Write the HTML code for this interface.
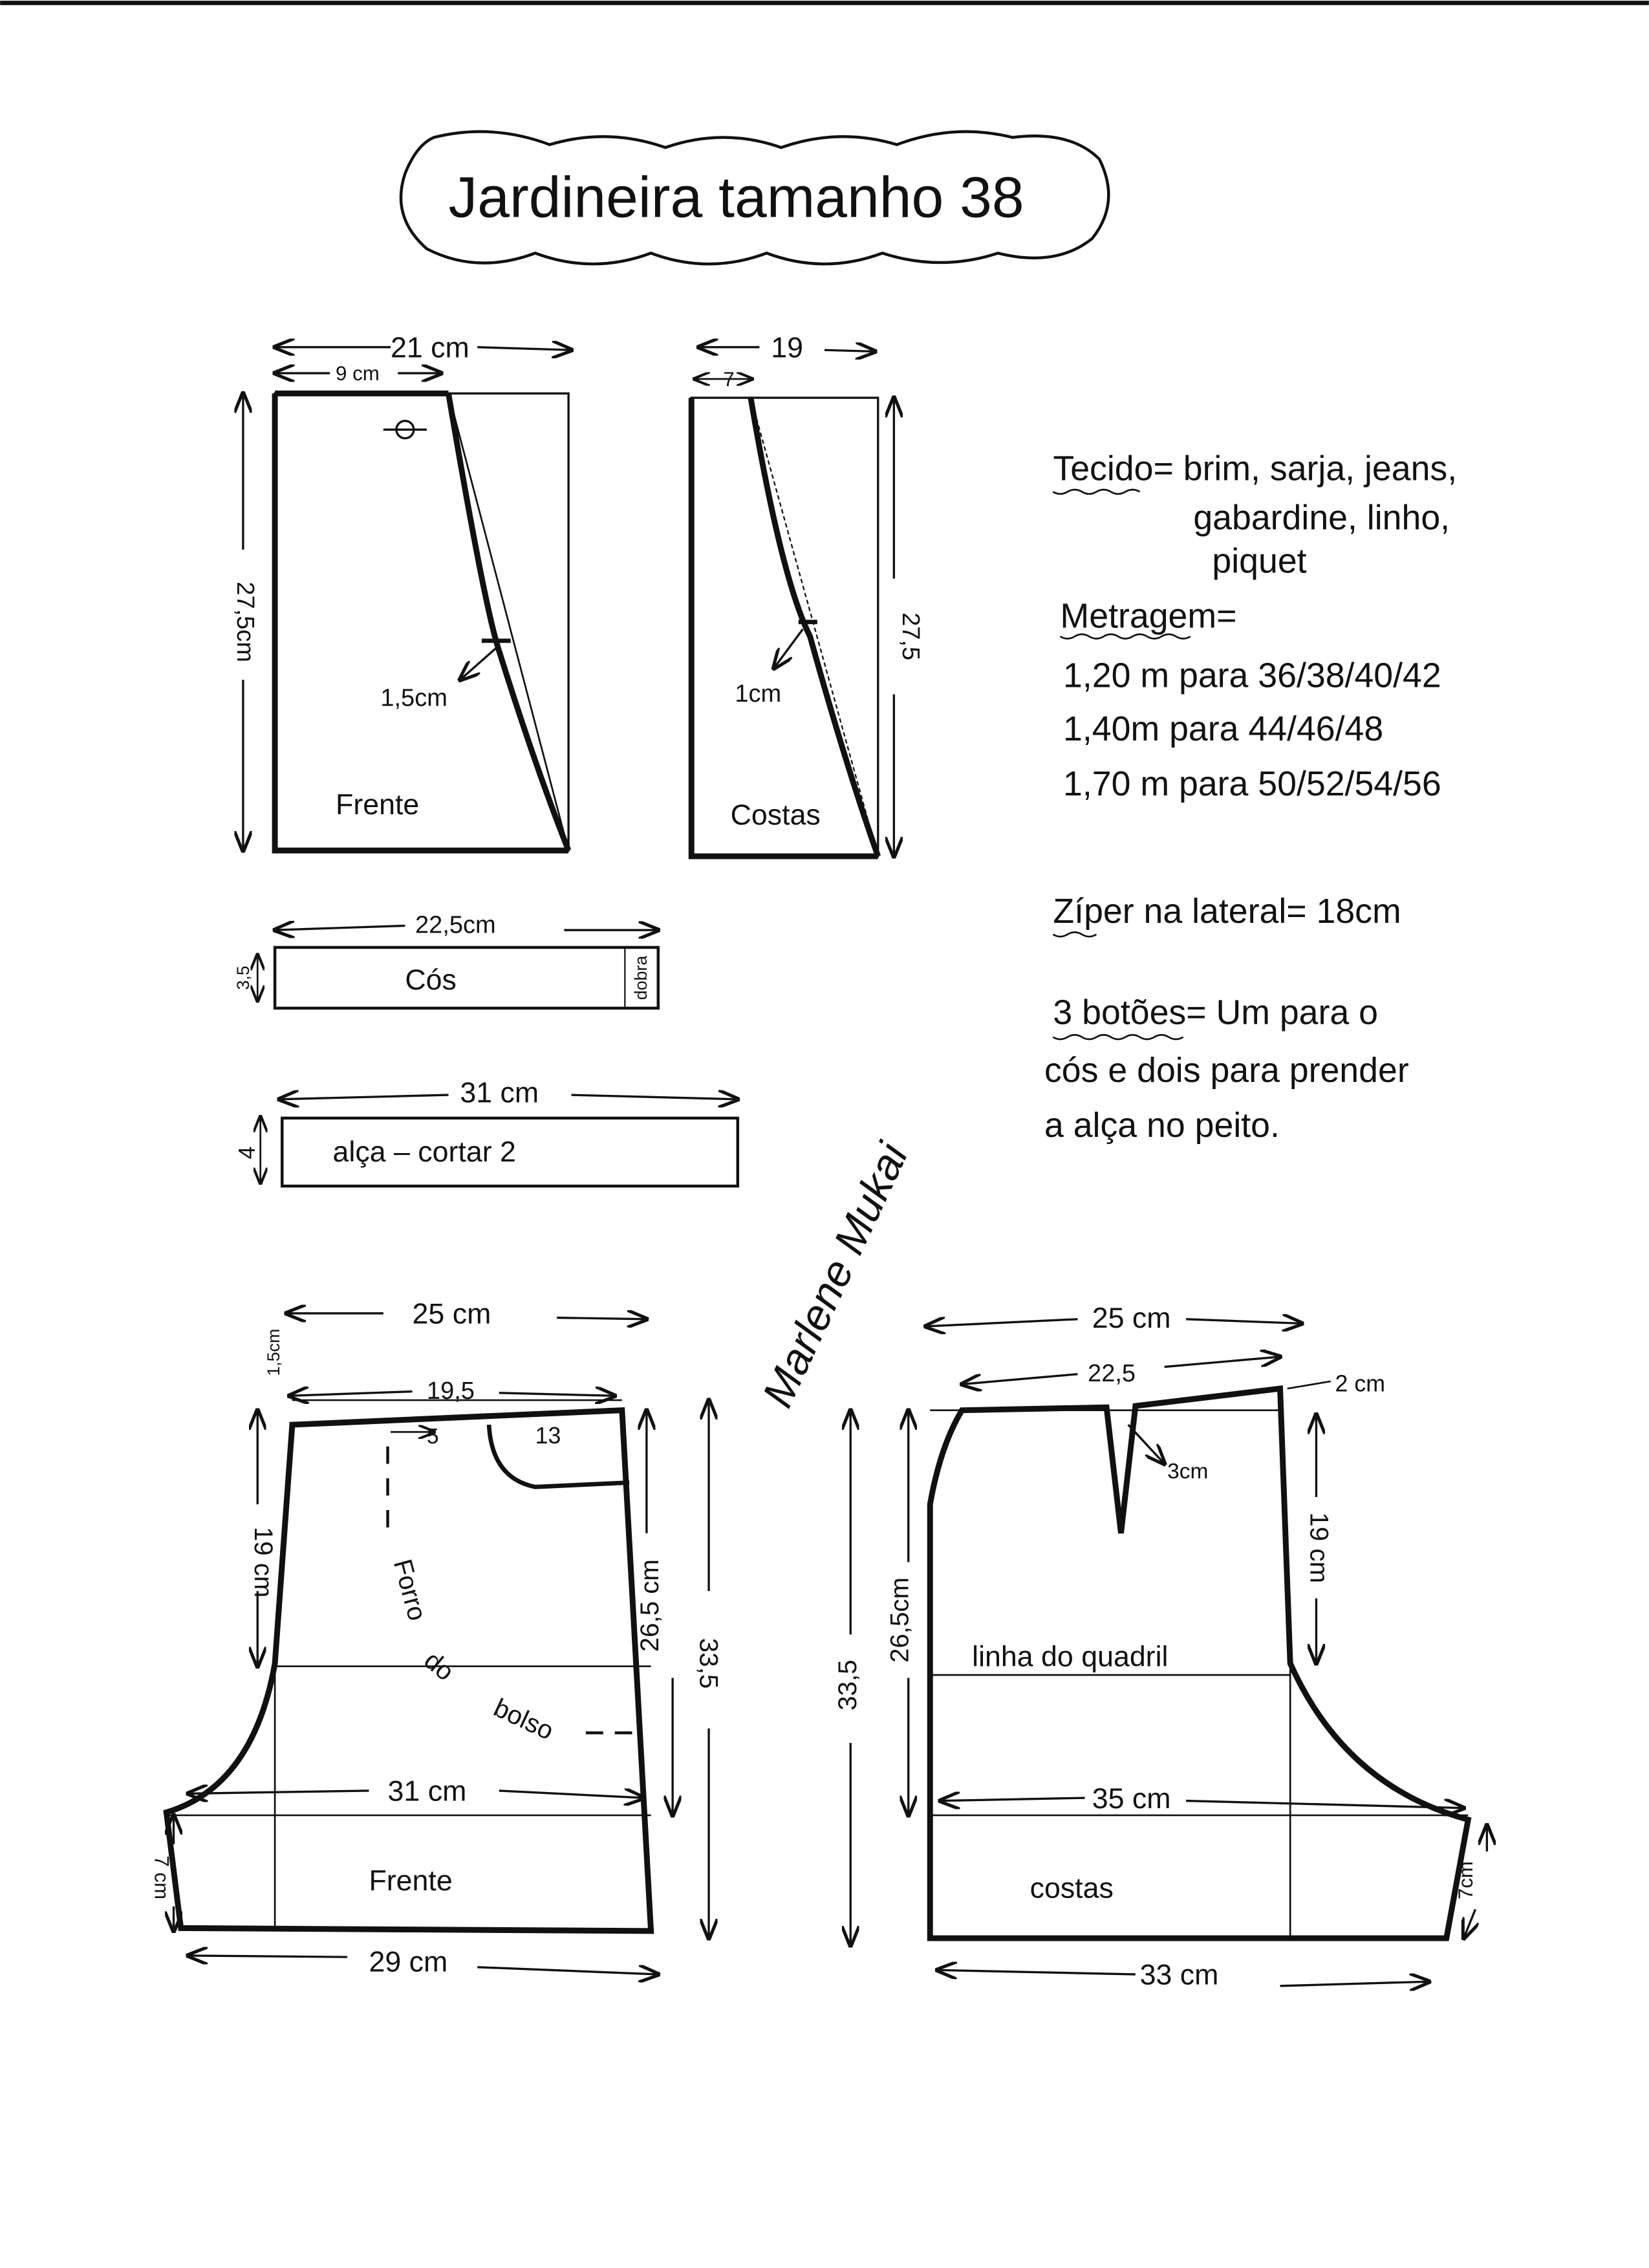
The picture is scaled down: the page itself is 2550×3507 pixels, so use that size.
<!DOCTYPE html>
<html><head><meta charset="utf-8"><style>
html,body{margin:0;padding:0;background:#fff}
svg{display:block}
text{font-family:"Liberation Sans",sans-serif;fill:#111}
</style></head><body>
<svg width="2550" height="3507" viewBox="0 0 1140 1568" xmlns="http://www.w3.org/2000/svg">
<defs>
<marker id="a" markerWidth="10" markerHeight="8" refX="9" refY="4" orient="auto"><path d="M0,0 L10,4 L0,8" fill="none" stroke="#111" stroke-width="1.5"/></marker>
<marker id="s" markerWidth="10" markerHeight="8" refX="9" refY="4" orient="auto-start-reverse"><path d="M0,0 L10,4 L0,8" fill="none" stroke="#111" stroke-width="1.5"/></marker>
</defs>
<rect width="1140" height="1568" fill="#fff"/>
<line x1="0" y1="2" x2="1140" y2="2" stroke="#111" stroke-width="3"/>
<g fill="none" stroke="#111" stroke-width="2">
<path d="M300,95 Q340,85 380,100 Q420,88 460,102 Q500,88 540,102 Q580,88 620,100 Q660,85 700,95 Q740,90 760,110 Q775,140 755,165 Q730,185 690,175 Q650,188 610,175 Q570,190 530,175 Q490,190 450,175 Q410,190 370,175 Q330,190 295,172 Q270,150 280,120 Q288,100 300,95 Z"/>
<g marker-start="url(#s)" stroke-width="1.5">
<line x1="190" y1="240" x2="270" y2="240"/><line x1="395" y1="242" x2="330" y2="240"/>
<line x1="190" y1="258" x2="228" y2="258"/><line x1="305" y1="258" x2="275" y2="258"/>
<line x1="168" y1="272" x2="168" y2="380"/><line x1="168" y1="588" x2="168" y2="470"/>
<line x1="483" y1="240" x2="525" y2="240"/><line x1="605" y1="243" x2="570" y2="242"/>
<line x1="618" y1="275" x2="618" y2="400"/><line x1="618" y1="592" x2="618" y2="480"/>
<line x1="190" y1="643" x2="280" y2="640"/><line x1="455" y1="643" x2="390" y2="643"/>
<line x1="193" y1="760" x2="310" y2="757"/><line x1="510" y1="760" x2="395" y2="757"/>
<line x1="198" y1="908" x2="265" y2="908"/><line x1="447" y1="912" x2="385" y2="911"/>
<line x1="200" y1="965" x2="285" y2="962"/><line x1="425" y1="965" x2="345" y2="963"/>
<line x1="178" y1="975" x2="178" y2="1040"/><line x1="178" y1="1152" x2="178" y2="1100"/>
<line x1="447" y1="975" x2="447" y2="1060"/><line x1="465" y1="1255" x2="465" y2="1160"/>
<line x1="490" y1="968" x2="490" y2="1100"/><line x1="490" y1="1340" x2="490" y2="1195"/>
<line x1="130" y1="1240" x2="255" y2="1238"/><line x1="445" y1="1243" x2="345" y2="1238"/>
<line x1="130" y1="1352" x2="240" y2="1353"/><line x1="455" y1="1365" x2="330" y2="1360"/>
<line x1="640" y1="917" x2="745" y2="912"/><line x1="900" y1="915" x2="820" y2="912"/>
<line x1="665" y1="957" x2="745" y2="950"/><line x1="885" y1="938" x2="805" y2="945"/>
<line x1="910" y1="978" x2="910" y2="1035"/><line x1="910" y1="1150" x2="910" y2="1105"/>
<line x1="628" y1="975" x2="628" y2="1080"/><line x1="628" y1="1255" x2="628" y2="1160"/>
<line x1="588" y1="975" x2="588" y2="1130"/><line x1="588" y1="1345" x2="588" y2="1205"/>
<line x1="650" y1="1245" x2="750" y2="1243"/><line x1="1012" y1="1250" x2="820" y2="1245"/>
<line x1="648" y1="1362" x2="785" y2="1365"/><line x1="988" y1="1370" x2="885" y2="1373"/>
<line x1="1028" y1="1262" x2="1028" y2="1280"/><line x1="1012" y1="1340" x2="1020" y2="1320"/>
<line x1="120" y1="1255" x2="120" y2="1275"/><line x1="120" y1="1335" x2="120" y2="1318"/>
</g>
<rect x="190" y="272" width="203" height="316" stroke-width="1.5"/>
<path d="M190,272 L310,272 M190,272 L190,588 L393,588" stroke-width="4"/>
<path d="M310,272 Q335,420 345,450 Q370,530 393,588" stroke-width="4"/>
<line x1="310" y1="272" x2="393" y2="588" stroke-width="1.2"/>
<line x1="333" y1="443" x2="353" y2="443" stroke-width="3"/>
<line x1="343" y1="448" x2="318" y2="470" stroke-width="1.5" marker-end="url(#a)"/>
<circle cx="280" cy="297" r="6" stroke-width="1.5"/><line x1="265" y1="297" x2="295" y2="297" stroke-width="1.5"/>
<rect x="478" y="275" width="129" height="317" stroke-width="1.5"/>
<path d="M478,275 L478,592 L607,592" stroke-width="4"/>
<path d="M519,275 Q540,400 560,440 Q585,530 607,592" stroke-width="4"/>
<line x1="519" y1="275" x2="607" y2="592" stroke-width="1" stroke-dasharray="3,2"/>
<line x1="552" y1="430" x2="565" y2="430" stroke-width="3"/>
<line x1="555" y1="435" x2="535" y2="462" stroke-width="1.5" marker-end="url(#a)"/>
<line x1="480" y1="262" x2="520" y2="262" stroke-width="1.2" marker-end="url(#a)" marker-start="url(#s)"/>
<rect x="190" y="655" width="265" height="42" stroke-width="2"/>
<line x1="432" y1="655" x2="432" y2="697" stroke-width="1"/>
<line x1="178" y1="660" x2="178" y2="692" stroke-width="1.2" marker-end="url(#a)" marker-start="url(#s)"/>
<rect x="195" y="773" width="315" height="47" stroke-width="2"/>
<line x1="180" y1="772" x2="180" y2="818" stroke-width="1.2" marker-end="url(#a)" marker-start="url(#s)"/>
<path d="M202,985 L430,975 L450,1335 L125,1333 L115,1253 Q175,1235 190,1150 L202,985 Z" stroke-width="4"/>
<g stroke-width="1.2">
<line x1="190" y1="1152" x2="450" y2="1152"/><line x1="115" y1="1255" x2="450" y2="1255"/>
<line x1="190" y1="1150" x2="190" y2="1335"/>
<line x1="202" y1="968" x2="430" y2="968"/>
</g>
<path d="M338,985 Q340,1022 370,1028 L435,1025" stroke-width="3"/>
<line x1="270" y1="990" x2="300" y2="990" stroke-width="1.2" marker-end="url(#a)"/>
<line x1="268" y1="1000" x2="268" y2="1065" stroke-width="2" stroke-dasharray="12,10"/>
<line x1="405" y1="1198" x2="445" y2="1198" stroke-width="2" stroke-dasharray="12,8"/>
<path d="M665,975 L765,973 L775,1060 L785,972 L885,960 L892,1150 Q930,1235 1015,1258 L1000,1340 L643,1340 L643,1040 Q650,1000 665,975 Z" stroke-width="4"/>
<g stroke-width="1.2">
<line x1="643" y1="1158" x2="892" y2="1158"/><line x1="643" y1="1255" x2="1015" y2="1255"/>
<line x1="892" y1="1150" x2="892" y2="1340"/><line x1="643" y1="975" x2="885" y2="975"/>
</g>
<line x1="780" y1="985" x2="805" y2="1012" stroke-width="1.5" marker-end="url(#a)"/>
<line x1="890" y1="960" x2="920" y2="955" stroke-width="1.2"/>
<path d="M728,340 q5,3 10,0 q5,-3 10,0 q5,3 10,0 q5,-3 10,0 q5,3 10,0 q5,-3 10,0" stroke-width="1.2"/>
<path d="M733,440 q5,3 10,0 q5,-3 10,0 q5,3 10,0 q5,-3 10,0 q5,3 10,0 q5,-3 10,0 q5,3 10,0 q5,-3 10,0 q5,3 10,0" stroke-width="1.2"/>
<path d="M728,646 q5,3 10,0 q5,-3 10,0 q5,3 10,0" stroke-width="1.2"/>
<path d="M728,717 q5,3 10,0 q5,-3 10,0 q5,3 10,0 q5,-3 10,0 q5,3 10,0 q5,-3 10,0 q5,3 10,0 q5,-3 10,0 q5,3 10,0" stroke-width="1.2"/>
</g>
<text x="310" y="150" font-size="40">Jardineira  tamanho  38</text>
<g font-size="20">
<text x="270" y="247">21 cm</text><text x="232" y="263" font-size="14">9 cm</text>
<text x="263" y="488" font-size="17">1,5cm</text><text x="232" y="563">Frente</text>
<text x="533" y="247">19</text><text x="500" y="267" font-size="14">7</text>
<text x="508" y="485" font-size="17">1cm</text><text x="505" y="570">Costas</text>
<text x="287" y="645" font-size="17">22,5cm</text><text x="280" y="684">Cós</text>
<text x="318" y="762">31 cm</text><text x="230" y="803">alça – cortar 2</text>
<text x="285" y="915">25 cm</text><text x="295" y="967" font-size="17">19,5</text>
<text x="295" y="998" font-size="15">5</text><text x="370" y="998" font-size="16">13</text>
<text x="268" y="1245">31 cm</text><text x="255" y="1307">Frente</text><text x="255" y="1363">29 cm</text>
<text x="755" y="918">25 cm</text><text x="752" y="955" font-size="17">22,5</text>
<text x="923" y="962" font-size="16">2 cm</text><text x="807" y="1022" font-size="15">3cm</text>
<text x="672" y="1152">linha do quadril</text><text x="755" y="1250">35 cm</text>
<text x="712" y="1312">costas</text><text x="788" y="1372">33 cm</text>
<text transform="translate(164,430) rotate(90)" font-size="17" text-anchor="middle">27,5cm</text>
<text transform="translate(624,440) rotate(90)" font-size="17" text-anchor="middle">27,5</text>
<text transform="translate(172,676) rotate(-90)" font-size="12" text-anchor="middle">3,5</text>
<text transform="translate(447,676) rotate(-90)" font-size="12" text-anchor="middle">dobra</text>
<text transform="translate(176,797) rotate(-90)" font-size="16" text-anchor="middle">4</text>
<text transform="translate(193,935) rotate(-90)" font-size="12" text-anchor="middle">1,5cm</text>
<text transform="translate(176,1080) rotate(90)" font-size="18" text-anchor="middle">19 cm</text>
<text transform="translate(455,1110) rotate(-90)" font-size="18" text-anchor="middle">26,5 cm</text>
<text transform="translate(484,1150) rotate(90)" font-size="18" text-anchor="middle">33,5</text>
<text transform="translate(107,1298) rotate(90)" font-size="14" text-anchor="middle">7 cm</text>
<text transform="translate(272,1080) rotate(75)" font-size="18">Forro</text>
<text transform="translate(292,1150) rotate(40)" font-size="18">do</text>
<text transform="translate(340,1185) rotate(25)" font-size="18">bolso</text>
<text transform="translate(906,1070) rotate(90)" font-size="18" text-anchor="middle">19 cm</text>
<text transform="translate(628,1120) rotate(-90)" font-size="18" text-anchor="middle">26,5cm</text>
<text transform="translate(592,1165) rotate(-90)" font-size="18" text-anchor="middle">33,5</text>
<text transform="translate(1018,1300) rotate(-90)" font-size="14" text-anchor="middle">7cm</text>
<text transform="translate(545,975) rotate(-65)" font-size="30" font-style="italic">Marlene Mukai</text>
</g>
<g font-size="24">
<text x="728" y="332">Tecido= brim, sarja, jeans,</text>
<text x="825" y="366">gabardine, linho,</text>
<text x="838" y="396">piquet</text>
<text x="733" y="434">Metragem=</text>
<text x="735" y="475">1,20 m   para    36/38/40/42</text>
<text x="735" y="512">1,40m   para    44/46/48</text>
<text x="735" y="550">1,70 m   para   50/52/54/56</text>
<text x="728" y="638">Zíper  na  lateral= 18cm</text>
<text x="728" y="708">3 botões= Um  para  o</text>
<text x="722" y="748">cós   e   dois  para  prender</text>
<text x="722" y="786">a  alça   no  peito.</text>
</g>
</svg>
</body></html>
